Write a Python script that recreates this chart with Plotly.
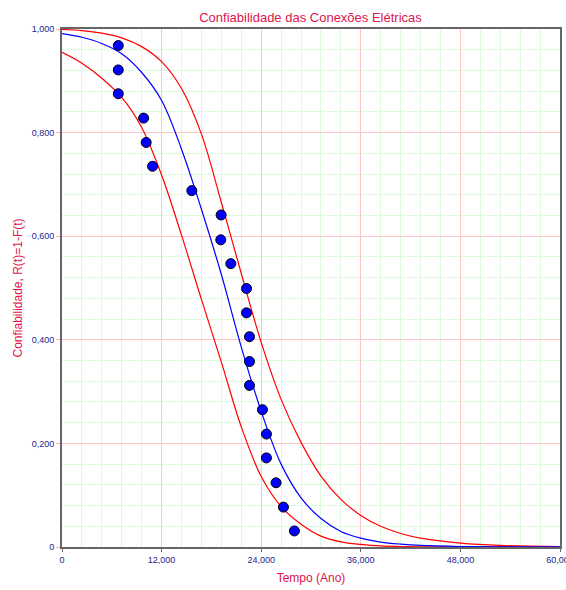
import plotly.graph_objects as go

# Observed data (time, reliability)
obs_t = [6780, 6780, 6780, 9830, 10140, 10910, 15640, 19170, 19130, 20340, 22230,
         22230, 22590, 22590, 22590, 24150, 24630, 24630, 25790, 26680, 28000]
obs_r = [0.968, 0.921, 0.875, 0.828, 0.781, 0.735, 0.688, 0.641, 0.593, 0.547, 0.499,
         0.452, 0.406, 0.358, 0.312, 0.265, 0.218, 0.172, 0.124, 0.077, 0.031]

# Curves
curve_t = [0, 2400, 4800, 7200, 9600, 12000, 14400, 16800, 19200, 21600, 24000,
           26400, 28800, 31200, 33600, 36000, 38400, 40800, 43200, 48000, 52800, 60000]
fit_r = [0.991, 0.984, 0.972, 0.952, 0.916, 0.862, 0.768, 0.652, 0.526, 0.386, 0.262,
         0.160, 0.095, 0.055, 0.030, 0.017, 0.0095, 0.0055, 0.003, 0.001, 0.0004, 0.0001]
upper_r = [0.999, 0.997, 0.992, 0.983, 0.966, 0.937, 0.885, 0.797, 0.665, 0.528, 0.395,
           0.285, 0.202, 0.137, 0.092, 0.061, 0.040, 0.026, 0.017, 0.0075, 0.003, 0.001]
lower_r = [0.955, 0.934, 0.905, 0.868, 0.810, 0.718, 0.602, 0.478, 0.357, 0.232, 0.136,
           0.078, 0.044, 0.021, 0.010, 0.005, 0.002, 0.001, 0.0005, 0.0002, 0.0001, 0.0]

x_ticks = [0, 12000, 24000, 36000, 48000, 60000]
x_ticktext = ["0", "12,000", "24,000", "36,000", "48,000", "60,000"]
y_ticks = [0, 0.2, 0.4, 0.6, 0.8, 1.0]
y_ticktext = ["0", "0,200", "0,400", "0,600", "0,800", "1,000"]

title_color = "#E0144C"
tick_color = "#23238E"
font_family = "Liberation Sans, Arial, sans-serif"

fig = go.Figure()
fig.add_trace(go.Scatter(x=curve_t, y=upper_r, mode="lines", line=dict(color="#FF0000", width=1.2, shape="spline"),
                         showlegend=False, hoverinfo="skip"))
fig.add_trace(go.Scatter(x=curve_t, y=lower_r, mode="lines", line=dict(color="#FF0000", width=1.2, shape="spline"),
                         showlegend=False, hoverinfo="skip"))
fig.add_trace(go.Scatter(x=curve_t, y=fit_r, mode="lines", line=dict(color="#0000FF", width=1.2, shape="spline"),
                         showlegend=False, hoverinfo="skip"))
fig.add_trace(go.Scatter(x=obs_t, y=obs_r, mode="markers",
                         marker=dict(color="#0000FF", size=10, line=dict(color="#000000", width=1)),
                         showlegend=False))

fig.update_layout(
    width=566, height=590,
    margin=dict(l=62, r=6, t=29, b=43),
    paper_bgcolor="white", plot_bgcolor="white",
    font=dict(family=font_family),
    title=dict(text="Confiabilidade das Conexões Elétricas", x=0.5486, xanchor="center", y=0.970, yanchor="middle",
               font=dict(size=13, color=title_color, family=font_family)),
)
fig.update_xaxes(
    range=[0, 60000], tickvals=x_ticks, ticktext=x_ticktext,
    tickfont=dict(size=9, color=tick_color), ticks="outside", ticklen=3, tickcolor="#666666",
    ticklabeloverflow="allow",
    showline=True, linecolor="#666666", linewidth=2, mirror=True,
    showgrid=True, gridcolor="#FFC4C4", gridwidth=1,
    minor=dict(dtick=2400, tick0=0, showgrid=True, gridcolor="#DDFADD", gridwidth=1),
    zeroline=False, automargin=False,
    title=dict(text="Tempo (Ano)", font=dict(size=12, color=title_color), standoff=10),
)
fig.update_yaxes(
    range=[0, 1.0], tickvals=y_ticks, ticktext=y_ticktext,
    tickfont=dict(size=9, color=tick_color), ticks="outside", ticklen=4, tickcolor="#FFB0B0",
    showline=True, linecolor="#666666", linewidth=2, mirror=True,
    showgrid=True, gridcolor="#FFC4C4", gridwidth=1,
    minor=dict(dtick=0.04, tick0=0, showgrid=True, gridcolor="#DDFADD", gridwidth=1),
    zeroline=False, automargin=False,
    title=dict(text="Confiabilidade, R(t)=1-F(t)", font=dict(size=12, color=title_color), standoff=6),
)

fig.write_html("out.html", config={"displayModeBar": False},
               post_script="document.body.style.margin='0px';")
